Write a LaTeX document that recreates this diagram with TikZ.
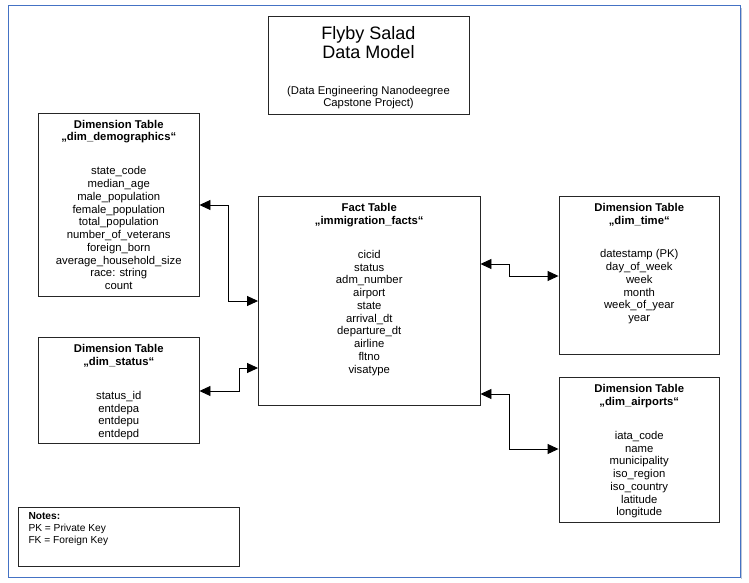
\documentclass[tikz,border=0pt]{standalone}
\usepackage{fontspec}
\setmainfont{Liberation Sans}
\usetikzlibrary{arrows.meta}
\definecolor{framecol}{RGB}{68,114,196}
\definecolor{shadowcol}{RGB}{190,198,214}
\begin{document}
\begin{tikzpicture}[x=1pt,y=-1pt,
  box/.style={draw=black!85, line width=0.9pt, inner sep=0pt},
  hdr/.style={anchor=north, inner sep=0pt, align=center, font=\fontsize{11.3}{12.6}\selectfont\bfseries},
  items/.style={anchor=north, inner sep=0pt, align=center, font=\fontsize{11.3}{12.75}\selectfont},
  conn/.style={line width=0.9pt, {Triangle[length=11pt,width=10pt]}-{Triangle[length=11pt,width=10pt]}}]
\useasboundingbox (0,0) rectangle (749,583);
% outer frame
\draw[shadowcol, line width=1.5pt] (741.5,8) -- (741.5,579);
\draw[framecol, line width=1pt] (8,6) rectangle (740,577.5);

% title
\node[box, minimum width=201pt, minimum height=98pt] (title) at (368.5,65) {};
\node[anchor=north, inner sep=0pt, align=center, font=\fontsize{18}{19.5}\selectfont] (titleT) at (368.5,26) {Flyby Salad\\Data Model};
\node[anchor=north, inner sep=0pt, align=center, font=\fontsize{11.3}{11.5}\selectfont] (titleS) at (368.5,86.5) {(Data Engineering Nanodeegree\\Capstone Project)};

% boxes
\node[box, minimum width=160.5pt, minimum height=183.5pt] (demo) at (118.75,204.75) {};
\node[box, minimum width=221.5pt, minimum height=209.5pt] (fact) at (369.25,300.75) {};
\node[box, minimum width=160.5pt, minimum height=158pt] (time) at (639.25,275) {};
\node[box, minimum width=160.5pt, minimum height=106.5pt] (status) at (118.75,390.25) {};
\node[box, minimum width=160.5pt, minimum height=145pt] (airp) at (639.25,449.5) {};
\node[box, minimum width=221pt, minimum height=59pt] (notes) at (128.5,536.5) {};

% texts
\node[hdr] (demoH) at (118.75,120) {Dimension Table\\„dim\_demographics“};
\node[items] (demoI) at (118.75,166.5) {state\_code\\median\_age\\male\_population\\female\_population\\total\_population\\number\_of\_veterans\\foreign\_born\\average\_household\_size\\race: string\\count};

\node[hdr] (factH) at (369.25,203.5) {Fact Table\\„immigration\_facts“};
\node[items] (factI) at (369.25,250) {cicid\\status\\adm\_number\\airport\\state\\arrival\_dt\\departure\_dt\\airline\\fltno\\visatype};

\node[hdr] (timeH) at (639.25,203.5) {Dimension Table\\„dim\_time“};
\node[items] (timeI) at (639.25,249.5) {datestamp (PK)\\day\_of\_week\\week\\month\\week\_of\_year\\year};

\node[hdr] (statusH) at (118.75,344.5) {Dimension Table\\„dim\_status“};
\node[items] (statusI) at (118.75,391) {status\_id\\entdepa\\entdepu\\entdepd};

\node[hdr] (airpH) at (639.25,384.5) {Dimension Table\\„dim\_airports“};
\node[items] (airpI) at (639.25,431) {iata\_code\\name\\municipality\\iso\_region\\iso\_country\\latitude\\longitude};

\node[anchor=north west, inner sep=0pt, align=left, font=\fontsize{10.2}{11.7}\selectfont] (notesT) at (28.3,512.7) {\textbf{Notes:}\\PK = Private Key\\FK = Foreign Key};

% connector rows
\coordinate (r1) at (0,205);
\coordinate (r2) at (0,301);
\coordinate (r3) at (0,391);
\coordinate (r4) at (0,368);
\coordinate (r5) at (0,264);
\coordinate (r6) at (0,276);
\coordinate (r7) at (0,394);
\coordinate (r8) at (0,449);

\draw[conn] (demo.east |- r1) -- (228.5,205) |- (fact.west |- r2);
\draw[conn] (status.east |- r3) -- (239.5,391) |- (fact.west |- r4);
\draw[conn] (fact.east |- r5) -- (509,264) |- (time.west |- r6);
\draw[conn] (fact.east |- r7) -- (509,394) |- (airp.west |- r8);
\end{tikzpicture}
\end{document}
